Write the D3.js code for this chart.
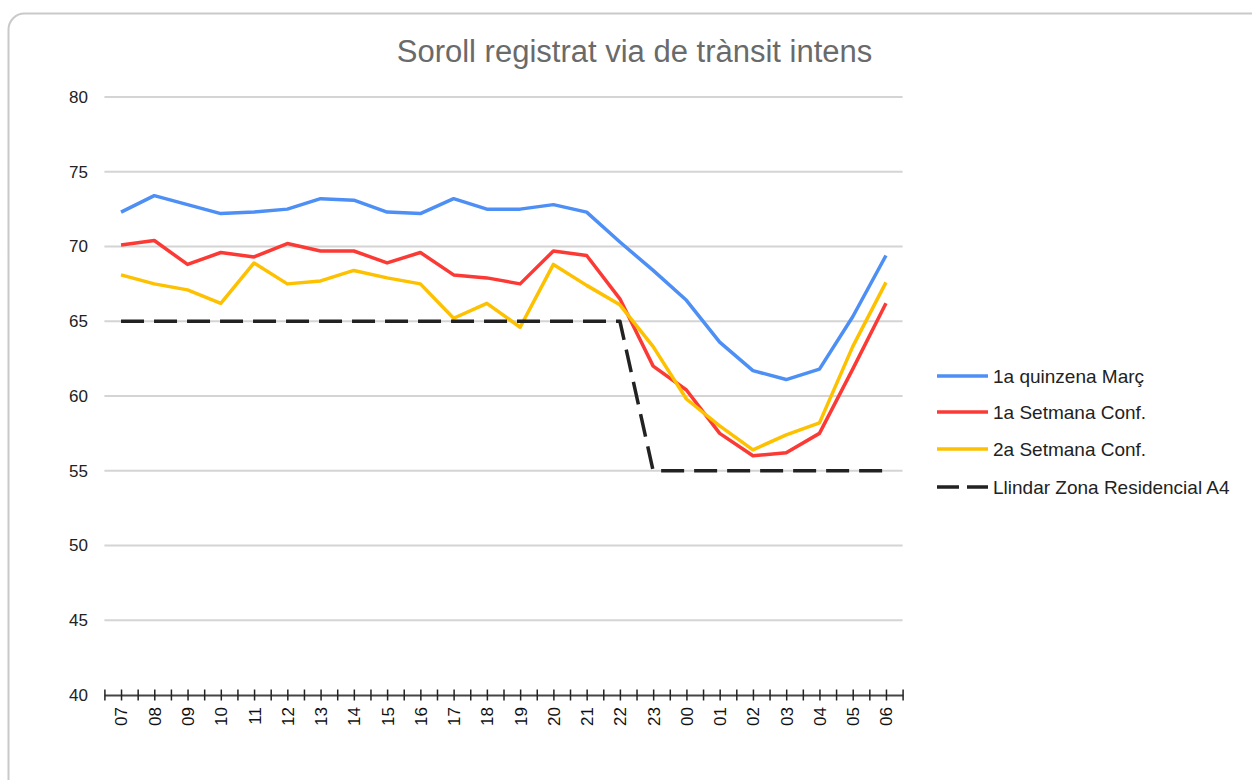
<!DOCTYPE html>
<html>
<head>
<meta charset="utf-8">
<script src="https://cdn.jsdelivr.net/npm/d3@7"></script>
<style>
  body { margin: 0; background: #fff; }
  svg { display: block; font-family: "Liberation Sans", Arial, sans-serif; }
</style>
</head>
<body>
<div id="chart"></div>
<script>
// Hores del dia (eix X)
const hours = ["07","08","09","10","11","12","13","14","15","16","17","18",
               "19","20","21","22","23","00","01","02","03","04","05","06"];

// Sèries (dB)
const quinzenaMarc = [72.3, 73.4, 72.8, 72.2, 72.3, 72.5, 73.2, 73.1, 72.3, 72.2, 73.2, 72.5,
                      72.5, 72.8, 72.3, 70.3, 68.4, 66.4, 63.6, 61.7, 61.1, 61.8, 65.3, 69.4];
const setmana1 = [70.1, 70.4, 68.8, 69.6, 69.3, 70.2, 69.7, 69.7, 68.9, 69.6, 68.1, 67.9,
                  67.5, 69.7, 69.4, 66.5, 62.0, 60.4, 57.5, 56.0, 56.2, 57.5, 61.8, 66.2];
const setmana2 = [68.1, 67.5, 67.1, 66.2, 68.9, 67.5, 67.7, 68.4, 67.9, 67.5, 65.2, 66.2,
                  64.6, 68.8, 67.4, 66.1, 63.3, 59.8, 58.0, 56.4, 57.4, 58.2, 63.3, 67.6];
const llindar = [65, 65, 65, 65, 65, 65, 65, 65, 65, 65, 65, 65,
                 65, 65, 65, 65, 55, 55, 55, 55, 55, 55, 55, 55];

const yTicks = [40, 45, 50, 55, 60, 65, 70, 75, 80];

const series = [
    { name: "1a quinzena Març", values: quinzenaMarc, color: "#4d8ff5", dash: null },
    { name: "1a Setmana Conf.", values: setmana1, color: "#fc3a35", dash: null },
    { name: "2a Setmana Conf.", values: setmana2, color: "#fdc100", dash: null },
    { name: "Llindar Zona Residencial A4", values: llindar, color: "#222222", dash: "23,10" }
];

const width = 1252, height = 780;
const plot = { left: 104.4, right: 902.6, top: 97, bottom: 695 };

const svg = d3.select("#chart").append("svg")
    .attr("width", width)
    .attr("height", height);

// Marc arrodonit
svg.append("rect")
    .attr("x", 8.5).attr("y", 13.5)
    .attr("width", 1300).attr("height", 820)
    .attr("rx", 16)
    .attr("fill", "#fff")
    .attr("stroke", "#c9c9c9")
    .attr("stroke-width", 2);

// Escales
const x = d3.scaleLinear()
    .domain([-0.5, hours.length - 0.5])
    .range([plot.left, plot.right]);

const y = d3.scaleLinear()
    .domain([40, 80])
    .range([plot.bottom, plot.top]);

// Títol
svg.append("text")
    .attr("x", 634.5)
    .attr("y", 62)
    .attr("text-anchor", "middle")
    .style("font-size", "31px")
    .style("fill", "#6a6a6a")
    .text("Soroll registrat via de trànsit intens");

// Línies de la graella
svg.append("g")
    .selectAll("line")
    .data(yTicks.filter(d => d > 40))
    .join("line")
    .attr("x1", plot.left).attr("x2", plot.right)
    .attr("y1", d => y(d)).attr("y2", d => y(d))
    .attr("stroke", "#d4d4d4")
    .attr("stroke-width", 2);

// Eix Y (només etiquetes)
svg.append("g")
    .selectAll("text")
    .data(yTicks)
    .join("text")
    .attr("x", 88)
    .attr("y", d => y(d))
    .attr("dy", "0.35em")
    .attr("text-anchor", "end")
    .style("font-size", "17px")
    .style("fill", "#222")
    .text(d => d);

// Eix X
const tickVals = d3.range(-0.5, hours.length, 0.5);
const xAxis = svg.append("g")
    .attr("transform", `translate(0,${plot.bottom})`)
    .call(d3.axisBottom(x)
        .tickValues(tickVals)
        .tickSizeOuter(0)
        .tickFormat(d => Number.isInteger(d) ? hours[d] : ""));

xAxis.select(".domain").attr("stroke", "#444").attr("stroke-width", 2);
xAxis.selectAll(".tick line")
    .attr("y1", -5.5).attr("y2", 5.5)
    .attr("stroke", "#222").attr("stroke-width", 1.5);
xAxis.selectAll(".tick text")
    .attr("transform", "rotate(-90)")
    .attr("x", -12).attr("y", 0)
    .attr("dy", "0.35em")
    .attr("text-anchor", "end")
    .style("font-size", "17px")
    .style("font-family", "\"Liberation Sans\", Arial, sans-serif")
    .style("fill", "#111");

// Línies de les sèries
const line = d3.line()
    .x((d, i) => x(i))
    .y(d => y(d));

svg.append("g")
    .selectAll("path")
    .data(series)
    .join("path")
    .attr("d", d => line(d.values))
    .attr("fill", "none")
    .attr("stroke", d => d.color)
    .attr("stroke-width", 3.5)
    .attr("stroke-linejoin", "round")
    .attr("stroke-dasharray", d => d.dash);

// Llegenda
const legendY = [376, 412, 449, 487];
const legend = svg.append("g")
    .selectAll("g")
    .data(series)
    .join("g")
    .attr("transform", (d, i) => `translate(937,${legendY[i]})`);

legend.append("line")
    .attr("x1", 0).attr("x2", 51)
    .attr("y1", 0).attr("y2", 0)
    .attr("stroke", d => d.color)
    .attr("stroke-width", 3.5)
    .attr("stroke-dasharray", d => d.dash ? "22,8" : null);

legend.append("text")
    .attr("x", 56)
    .attr("y", 0)
    .attr("dy", "0.35em")
    .style("font-size", "19px")
    .style("fill", "#222")
    .text(d => d.name);
</script>
</body>
</html>
